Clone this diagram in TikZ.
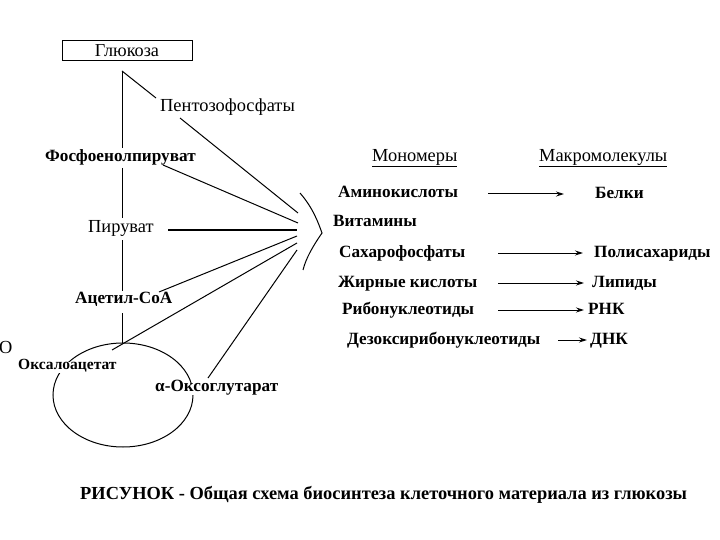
\documentclass[tikz,border=0pt]{standalone}
\usepackage{fontspec}
\setmainfont{Liberation Serif}
\usetikzlibrary{arrows.meta}
\begin{document}
\begin{tikzpicture}[x=1pt,y=-1pt,
  lbl/.style={font=\fontsize{18.4}{20}\selectfont, inner sep=1pt, anchor=west, fill=white, text height=0.68em, text depth=0.22em},
  blbl/.style={lbl, font=\fontsize{17.2}{19}\selectfont\bfseries},
  ar/.style={-{Stealth[length=8pt,width=5pt]}, line width=1pt},
  ln/.style={line width=1pt}]
\useasboundingbox (0,0) rectangle (720,540);
% pathway column
\node[draw, line width=1pt, minimum width=130pt, minimum height=20pt, inner sep=0pt, font=\fontsize{18.2}{20}\selectfont] (glu) at (127,51) {Глюкоза};
\coordinate (top) at (122,71);
\draw[ln] (123,395) ellipse [x radius=70pt, y radius=52pt];
\node[lbl] (pento) at (159,109) {Пентозофосфаты};
\node[blbl] (phos) at (44,159) {Фосфоенолпируват};
\node[lbl] (pir) at (87,230) {Пируват};
\node[blbl] (acet) at (74,301) {Ацетил-СоА};
\node[blbl, font=\fontsize{15.5}{17}\selectfont\bfseries] (oxa) at (17,367) {Оксалоацетат};
\node[blbl] (akg) at (154,389) {α-Оксоглутарат};
\node[lbl, fill=none] (o) at (-2,351) {O};
% vertical chain
\coordinate (v1) at (122,148);
\coordinate (v2) at (122,168);
\coordinate (v3) at (122,218);
\coordinate (v4) at (122,240);
\coordinate (v5) at (122,291);
\coordinate (v6) at (122,313);
\coordinate (v7) at (122,343);
\draw[ln] (top) -- (v1);
\draw[ln] (v2) -- (v3);
\draw[ln] (v4) -- (v5);
\draw[ln] (v6) -- (v7);
% brace
\coordinate (btop) at (300,193);
\coordinate (btip) at (322,233);
\coordinate (bbot) at (303,270);
\draw[ln] (btop) .. controls (313,208) and (318,222) .. (btip) .. controls (313,246) and (306,258) .. (bbot);
% lines to brace
\coordinate (b1) at (298,213);
\coordinate (b2) at (298,223);
\coordinate (b3) at (297,230);
\coordinate (b4) at (297,236);
\coordinate (b5) at (297,243);
\coordinate (b6) at (297,250);
\coordinate (pe1) at (156,98);
\coordinate (pe2) at (180,118);
\coordinate (ph1) at (163,165);
\coordinate (pi1) at (168,230);
\coordinate (ac1) at (159,292);
\coordinate (ox1) at (112,350);
\coordinate (ak1) at (208,378);
\draw[ln] (top) -- (pe1);
\draw[ln] (pe2) -- (b1);
\draw[ln] (ph1) -- (b2);
\draw[line width=1.8pt] (pi1) -- (b3);
\draw[ln] (ac1) -- (b4);
\draw[ln] (ox1) -- (b5);
\draw[ln] (ak1) -- (b6);
% right part
\node[lbl] (mon) at (371,159) {\underline{Мономеры}};
\node[lbl] (mac) at (538,159) {\underline{Макромолекулы}};
\node[blbl] (amino) at (337,195) {Аминокислоты};
\node[blbl] (vit) at (332,224) {Витамины};
\node[blbl] (sah) at (338,255) {Сахарофосфаты};
\node[blbl] (fat) at (337,285) {Жирные кислоты};
\node[blbl] (rib) at (341,312) {Рибонуклеотиды};
\node[blbl] (dez) at (346,342) {Дезоксирибонуклеотиды};
\node[blbl] (bel) at (594,196) {Белки};
\node[blbl] (pol) at (593,255) {Полисахариды};
\node[blbl] (lip) at (591,285) {Липиды};
\node[blbl] (rnk) at (587,312) {РНК};
\node[blbl] (dnk) at (589,342) {ДНК};
\coordinate (a1s) at (488,194); \coordinate (a1e) at (564,194);
\coordinate (a2s) at (498,253); \coordinate (a2e) at (583,253);
\coordinate (a3s) at (498,283); \coordinate (a3e) at (584,283);
\coordinate (a4s) at (498,310); \coordinate (a4e) at (584,310);
\coordinate (a5s) at (558,340); \coordinate (a5e) at (587,340);
\draw[ar] (a1s) -- (a1e);
\draw[ar] (a2s) -- (a2e);
\draw[ar] (a3s) -- (a3e);
\draw[ar] (a4s) -- (a4e);
\draw[ar] (a5s) -- (a5e);
% caption
\node[font=\fontsize{18.4}{20}\selectfont\bfseries, inner sep=0pt, anchor=west] (cap) at (80,495) {РИСУНОК - Общая схема биосинтеза клеточного материала из глюкозы};
\end{tikzpicture}
\end{document}
